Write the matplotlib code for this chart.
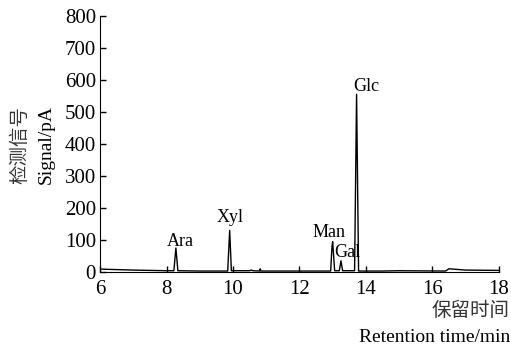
import matplotlib
matplotlib.use("Agg")
import matplotlib.pyplot as plt

# chromatogram trace (time in min, signal in pA)
time_min = [6.0, 7.0, 8.0, 8.22, 8.28, 8.34, 9.0, 9.84, 9.9, 9.95, 10.5, 10.55, 10.6,
            10.8, 10.82, 10.84, 11.3, 12.94, 12.98, 13.0, 13.06, 13.2, 13.25, 13.3,
            13.66, 13.72, 13.78, 14.5, 15.0, 16.4, 16.5, 17.0, 18.0]
signal_pa = [9, 6, 4, 4, 75, 4, 3, 3, 130, 4, 4, 6, 4,
             3, 10, 3, 3, 3, 80, 95, 4, 4, 35, 4,
             4, 555, 3, 3, 4, 3, 10, 6, 5]

# peak labels
peak_names = ["Ara", "Xyl", "Man", "Gal", "Glc"]
label_x = [8.4, 9.9, 12.9, 13.45, 14.0]
label_y = [94, 169, 122, 60, 581]

x_ticks = [6, 8, 10, 12, 14, 16, 18]
y_ticks = [0, 100, 200, 300, 400, 500, 600, 700, 800]

serif = ["Liberation Serif", "Noto Sans CJK SC"]
cjk = ["Noto Sans CJK SC", "Liberation Serif"]

fig = plt.figure(figsize=(5.11, 3.45), dpi=100)
ax = fig.add_axes([0.196, 0.2116, 0.78, 0.742])

ax.plot(time_min, signal_pa, color="black", lw=1.0)

for name, lx, ly in zip(peak_names, label_x, label_y):
    ax.text(lx, ly, name, ha="center", va="center", fontsize=13, family=serif)

ax.set_xlim(6, 18)
ax.set_ylim(0, 800)
ax.set_xticks(x_ticks)
ax.set_yticks(y_ticks)
ax.tick_params(direction="in", length=4, width=1, labelsize=15, pad=3)
ax.tick_params(axis="x", pad=6)
for lab in ax.get_xticklabels() + ax.get_yticklabels():
    lab.set_family(serif)
ax.spines["top"].set_visible(False)
ax.spines["right"].set_visible(False)

# axis titles, chinese + english
fig.text(0.039, 0.58, "检测信号", rotation=90, ha="center", va="center", fontsize=14,
         family=cjk, color="#333333")
fig.text(0.09, 0.58, "Signal/pA", rotation=90, ha="center", va="center", fontsize=14,
         family=serif)
fig.text(0.998, 0.101, "保留时间", ha="right", va="center", fontsize=14, family=cjk,
         color="#333333")
fig.text(0.998, 0.023, "Retention time/min", ha="right", va="center", fontsize=14,
         family=serif)

plt.savefig("out.png", dpi=100)
plt.close()
